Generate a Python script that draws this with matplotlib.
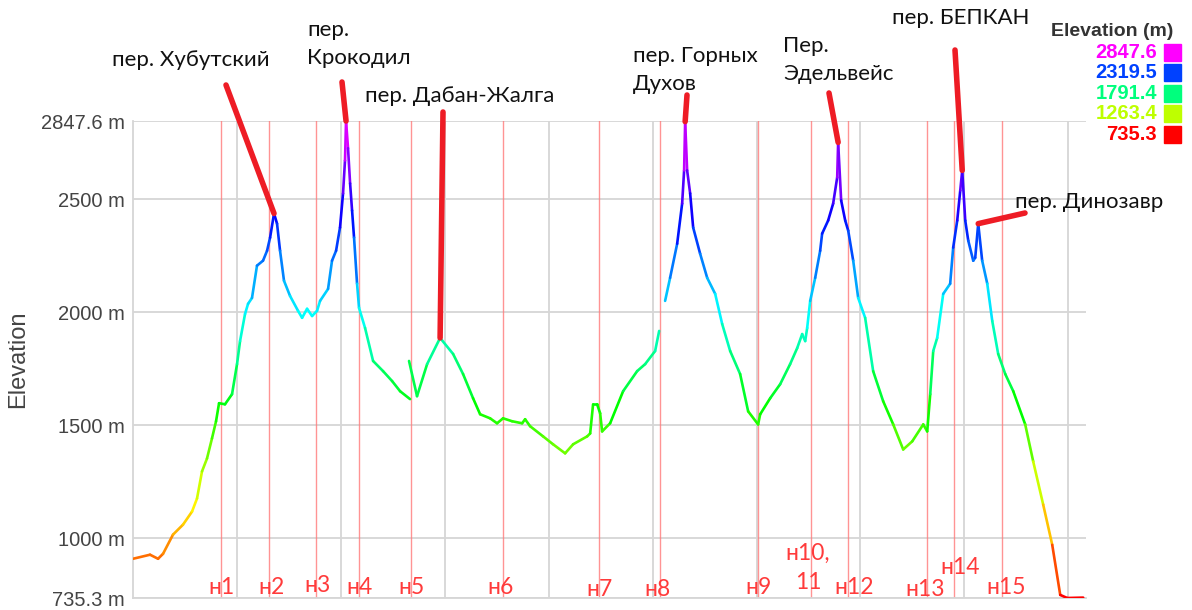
#!/usr/bin/env python3
"""Elevation profile of the route with passes and overnight stops."""

import numpy as np
import matplotlib.pyplot as plt
from matplotlib.collections import LineCollection
from matplotlib.colors import ListedColormap, Normalize, hsv_to_rgb
from matplotlib.patches import Rectangle

# profile, split where the track has gaps: distance (km), elevation (m)
part1_km = [0.0, 1.64, 2.41, 2.89, 3.85, 4.81, 5.68, 6.16, 6.64, 7.12, 7.60, 7.99,
            8.28, 8.85, 9.53, 10.01, 10.30, 10.78, 11.07, 11.45, 11.93, 12.51, 12.90,
            13.19, 13.57, 13.86, 14.15, 14.53, 15.11, 15.88, 16.27, 16.75, 17.23,
            17.71, 18.00, 18.77, 19.15, 19.54, 19.92, 20.21, 20.40, 20.50, 20.69,
            20.89, 21.08, 21.27, 21.56, 21.75, 22.33, 23.10, 24.06, 24.93, 25.70, 26.66]
part1_m = [909, 927, 909, 931, 1016, 1060, 1118, 1176, 1296, 1353, 1442, 1518,
           1598, 1593, 1638, 1771, 1873, 1993, 2038, 2064, 2207, 2229, 2273,
           2331, 2438, 2393, 2273, 2140, 2073, 2007, 1976, 2016, 1984,
           2007, 2051, 2104, 2229, 2273, 2376, 2527, 2673, 2847.6, 2727,
           2571, 2451, 2331, 2127, 2020, 1931, 1785, 1740, 1696, 1651, 1616]

part2_km = [26.56, 27.33, 28.30, 29.55, 30.80, 31.76, 32.72, 33.40, 34.36, 35.03,
            35.61, 36.48, 37.44, 37.73, 38.21, 39.46, 40.42, 41.58, 42.35, 43.70,
            43.99, 44.27, 44.66, 44.95, 45.14, 45.91, 47.16, 48.51, 49.28, 50.24, 50.63]
part2_m = [1785, 1629, 1771, 1887, 1816, 1727, 1620, 1549, 1531, 1509,
           1531, 1518, 1509, 1527, 1496, 1451, 1416, 1376, 1416, 1451,
           1464, 1593, 1593, 1553, 1473, 1509, 1651, 1740, 1771, 1829, 1918]

part3_km = [51.20, 51.68, 52.36, 52.84, 53.03, 53.13, 53.32, 53.61, 53.90, 54.57,
            55.25, 56.02, 56.69, 57.46, 58.42, 59.19, 60.15, 60.35, 61.31, 62.27,
            63.23, 63.91, 64.39, 64.68, 64.87, 65.16, 65.64, 66.12, 66.31, 66.89,
            67.37, 67.76, 67.85, 68.14, 68.53, 68.82, 69.30, 69.78, 70.45, 71.22,
            72.18, 73.15, 74.11, 74.98, 76.04, 76.42, 76.71, 77.00, 77.38, 77.96,
            78.63, 78.92, 79.31, 79.60, 79.79, 80.08, 80.37, 80.85, 81.04, 81.33,
            81.71, 82.20, 82.68, 83.25, 83.93, 84.70, 85.85, 86.62, 87.58, 88.45,
            89.22, 89.89, 91.43]
part3_m = [2051, 2153, 2304, 2482, 2629, 2845, 2629, 2527, 2376, 2260,
           2153, 2082, 1949, 1829, 1727, 1562, 1504, 1549, 1620, 1682,
           1771, 1842, 1904, 1873, 1931, 2051, 2153, 2273, 2349, 2407,
           2482, 2598, 2753, 2496, 2407, 2362, 2229, 2064, 1976, 1740,
           1607, 1504, 1393, 1429, 1504, 1473, 1638, 1829, 1887, 2082,
           2127, 2287, 2407, 2540, 2629, 2407, 2318, 2229, 2242, 2393,
           2229, 2127, 1962, 1816, 1727, 1651, 1504, 1340, 1149, 971,
           749, 735.3, 737]

y_ticks = [735.3, 1000, 1500, 2000, 2500, 2847.6]
legend_values = [2847.6, 2319.5, 1791.4, 1263.4, 735.3]

# overnight stops (red vertical lines)
camp_names = ['н1', 'н2', 'н3', 'н4', 'н5', 'н6', 'н7', 'н8', 'н9', 'н10,\n11',
              'н12', 'н13', 'н14', 'н15']
camp_km = [8.47, 13.09, 17.61, 21.75, 26.76, 35.61, 44.85, 50.72, 60.15, 65.26,
           68.82, 76.42, 79.02, 83.64]
# label centre in figure pixels (from top-left)
camp_label_px = [(221, 588), (272, 587), (317, 585), (360, 587), (412, 587),
                 (501, 587), (599, 590), (658, 589), (758, 588), (808, 568),
                 (854, 588), (925, 590), (960, 567), (1006, 588)]

# passes: name, peak (km, m), label position, leader start (figure pixels)
pass_names = ['пер. Хубутский', 'пер.\nКрокодил', 'пер. Дабан-Жалга',
              'пер. Горных\nДухов', 'Пер.\nЭдельвейс', 'пер. БЕПКАН', 'пер. Динозавр']
pass_km = [13.57, 20.50, 29.55, 53.13, 67.85, 79.79, 81.33]
pass_m = [2438, 2847.6, 1887, 2845, 2753, 2629, 2393]
pass_label_px = [(112, 60), (307, 44), (365, 96), (633, 70), (783, 60), (892, 18), (1015, 202)]
pass_leader_px = [(226, 85), (342, 82), (443, 112), (687, 95), (829, 93), (955, 50), (1025, 213)]

W, H = 1192, 610
RED = '#ee1c25'

hues = np.linspace(0, 300 / 360, 256)
cmap = ListedColormap(hsv_to_rgb(np.column_stack([hues, np.ones(256), np.ones(256)])))
norm = Normalize(min(y_ticks), max(y_ticks))

fig = plt.figure(figsize=(W / 100, H / 100), dpi=100)
ax = fig.add_axes([133 / W, 12 / H, (1086 - 133) / W, (598 - 121) / H])

for km, m in [(part1_km, part1_m), (part2_km, part2_m), (part3_km, part3_m)]:
    pts = np.column_stack([km, m])
    segs = np.stack([pts[:-1], pts[1:]], axis=1)
    mid = (np.array(m[:-1]) + np.array(m[1:])) / 2
    lc = LineCollection(segs, colors=cmap(norm(mid)), linewidths=1.9,
                        capstyle='round', joinstyle='round', zorder=3)
    ax.add_collection(lc)

for x in camp_km:
    ax.axvline(x, color='#ff7a7a', lw=1.0, alpha=0.8, zorder=2)

ax.set_xlim(0, 91.7)
ax.set_ylim(min(y_ticks), max(y_ticks))
ax.set_xticks(np.arange(10, 91, 10))
ax.set_xticklabels([])
ax.set_yticks(y_ticks)
ax.set_yticklabels([f'{v:g} m' for v in y_ticks], fontsize=14.5, color='#444444',
                   family='Liberation Sans')
ax.tick_params(length=0, pad=6)
ax.grid(True, color='#d6d6d6', lw=1.3, zorder=1)
for side in ['top', 'right']:
    ax.spines[side].set_visible(False)
for side in ['left', 'bottom']:
    ax.spines[side].set_color('#d6d6d6')
    ax.spines[side].set_linewidth(1.3)
ax.set_ylabel('Elevation', fontsize=17, color='#444444', family='Liberation Sans',
              labelpad=8)

for name, (px, py) in zip(camp_names, camp_label_px):
    fig.text(px / W, 1 - py / H, name, ha='center', va='center', fontsize=16.5,
             color='#ff3b3b', family='Lato', linespacing=1.45)

for name, km, m, (tx, ty), (lx, ly) in zip(pass_names, pass_km, pass_m,
                                           pass_label_px, pass_leader_px):
    ax.annotate('', xy=(km, m), xytext=(lx, H - ly), textcoords='figure pixels',
                arrowprops=dict(arrowstyle='-', color=RED, lw=4, shrinkA=0, shrinkB=0),
                annotation_clip=False, zorder=4)
    fig.text(tx / W, 1 - ty / H, name, ha='left', va='center', fontsize=16,
             color='#111111', family='Lato', linespacing=1.55)

# colour legend
fig.text(1112 / W, 1 - 31 / H, 'Elevation (m)', ha='center', va='center',
         fontsize=14, fontweight='bold', color='#333333', family='Liberation Sans')
for i, v in enumerate(legend_values):
    yc = 52 + 20.6 * i
    c = cmap(norm(v))
    fig.text(1157 / W, 1 - yc / H, f'{v:.1f}', ha='right', va='center', fontsize=14.5,
             fontweight='bold', color=c, family='Liberation Sans')
    fig.patches.append(Rectangle((1164 / W, 1 - (yc + 8.5) / H), 17 / W, 17 / H,
                                 transform=fig.transFigure, color=c))

fig.savefig('out.png', dpi=100)
